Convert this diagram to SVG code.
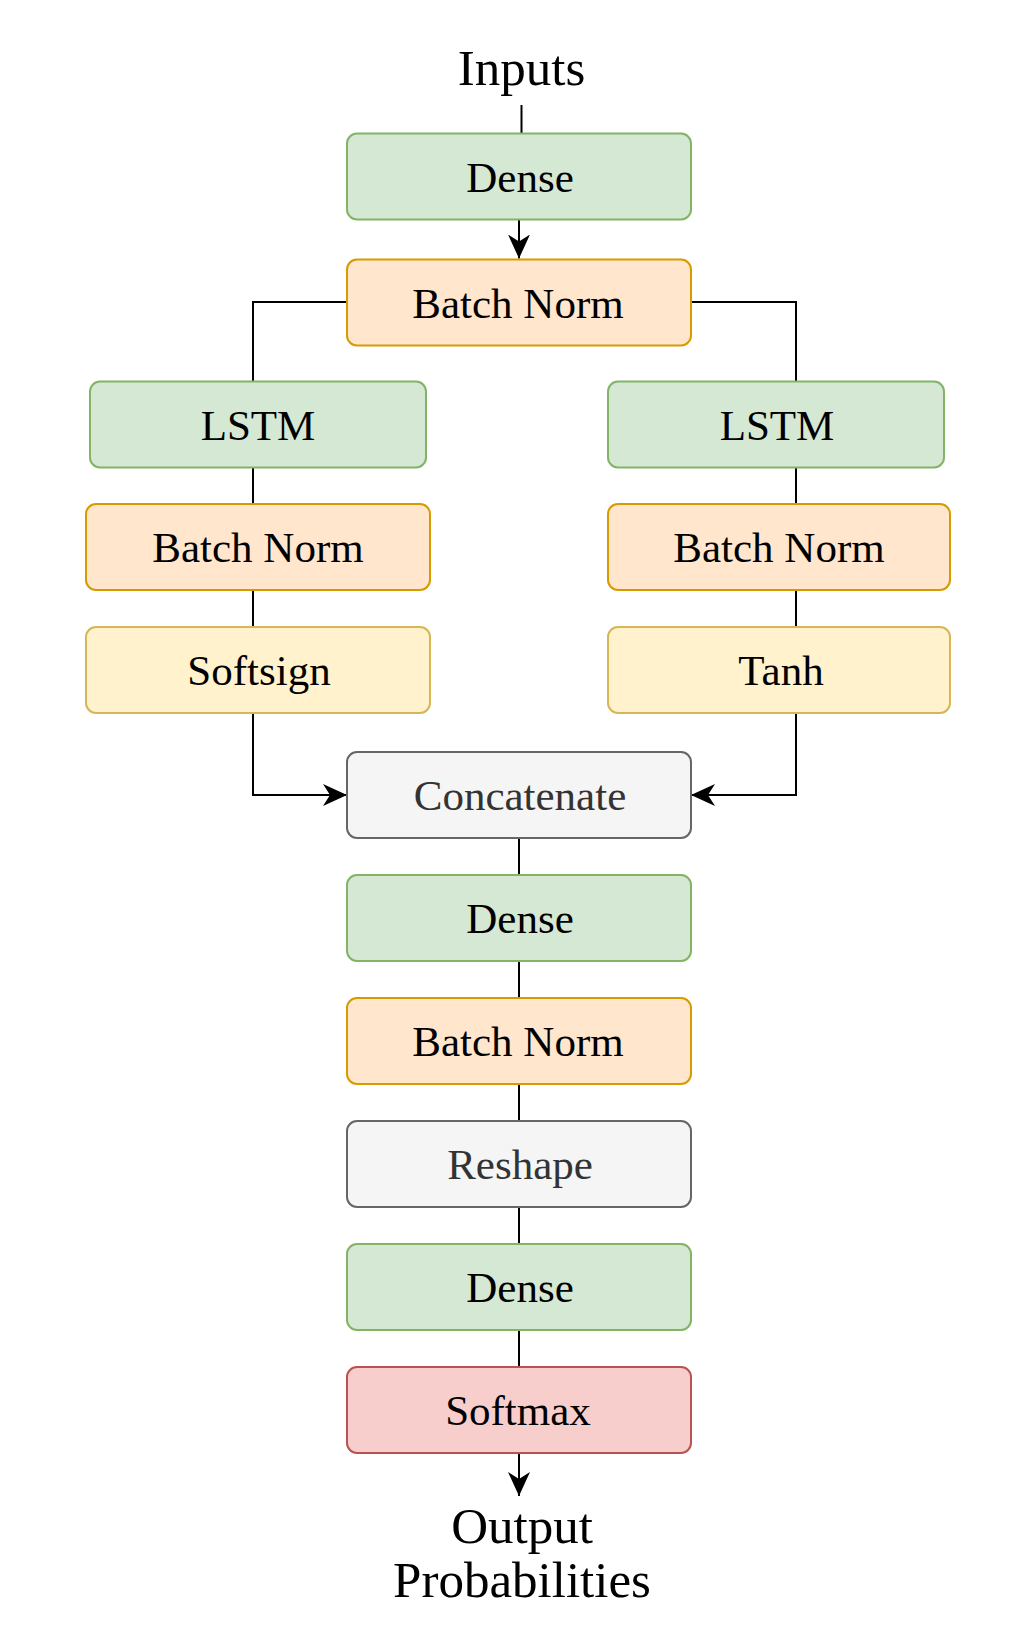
<svg xmlns="http://www.w3.org/2000/svg" width="1029" height="1633" viewBox="0 0 1029 1633">
<style>
  .box { stroke-width: 2; }
  .green { fill: #d5e8d4; stroke: #82b366; }
  .orange { fill: #ffe6cc; stroke: #d79b00; }
  .yellow { fill: #fff2cc; stroke: #d6b656; }
  .grey { fill: #f5f5f5; stroke: #666666; }
  .red { fill: #f8cecc; stroke: #b85450; }
  text { font-family: "Liberation Serif", "Times New Roman", serif; font-size: 43px; text-anchor: middle; fill: #000000; }
  text.dim { fill: #333333; }
  text.label { font-size: 51px; }
  .conn { fill: none; stroke: #000000; stroke-width: 2; }
</style>
<defs>
  <marker id="arrow" viewBox="0 0 24 22" refX="24" refY="11" markerWidth="24" markerHeight="22" markerUnits="userSpaceOnUse" orient="auto">
    <path d="M0,0 L24,11 L0,22 L7,11 Z" fill="#000000"/>
  </marker>
</defs>
<rect width="1029" height="1633" fill="#ffffff"/>

<g id="connectors">
  <path class="conn" d="M521.5,105 L521.5,133.5"/>
  <path class="conn" d="M519,219.5 L519,258.5" marker-end="url(#arrow)"/>
  <path class="conn" d="M347,302 L253,302 L253,381.5"/>
  <path class="conn" d="M691,302 L796,302 L796,381.5"/>
  <path class="conn" d="M253,467.5 L253,504"/>
  <path class="conn" d="M253,590 L253,627"/>
  <path class="conn" d="M796,467.5 L796,504"/>
  <path class="conn" d="M796,590 L796,627"/>
  <path class="conn" d="M253,713 L253,795 L347,795" marker-end="url(#arrow)"/>
  <path class="conn" d="M796,713 L796,795 L691,795" marker-end="url(#arrow)"/>
  <path class="conn" d="M519,838 L519,875"/>
  <path class="conn" d="M519,961 L519,998"/>
  <path class="conn" d="M519,1084 L519,1121"/>
  <path class="conn" d="M519,1207 L519,1244"/>
  <path class="conn" d="M519,1330 L519,1367"/>
  <path class="conn" d="M519,1453 L519,1496" marker-end="url(#arrow)"/>
</g>

<g id="label-inputs"><text class="label" x="521.5" y="85">Inputs</text></g>

<g id="dense1"><rect class="box green" x="347" y="133.5" width="344" height="86" rx="10"/><text x="520" y="191.5">Dense</text></g>
<g id="batchnorm1"><rect class="box orange" x="347" y="259.5" width="344" height="86" rx="10"/><text x="518" y="317.5">Batch Norm</text></g>

<g id="lstm-left"><rect class="box green" x="90" y="381.5" width="336" height="86" rx="10"/><text x="258" y="439.5">LSTM</text></g>
<g id="lstm-right"><rect class="box green" x="608" y="381.5" width="336" height="86" rx="10"/><text x="777" y="439.5">LSTM</text></g>

<g id="batchnorm-left"><rect class="box orange" x="86" y="504" width="344" height="86" rx="10"/><text x="258" y="562">Batch Norm</text></g>
<g id="batchnorm-right"><rect class="box orange" x="608" y="504" width="342" height="86" rx="10"/><text x="779" y="562">Batch Norm</text></g>

<g id="softsign"><rect class="box yellow" x="86" y="627" width="344" height="86" rx="10"/><text x="259" y="685">Softsign</text></g>
<g id="tanh"><rect class="box yellow" x="608" y="627" width="342" height="86" rx="10"/><text x="781" y="685">Tanh</text></g>

<g id="concatenate"><rect class="box grey" x="347" y="752" width="344" height="86" rx="10"/><text class="dim" x="520" y="810">Concatenate</text></g>
<g id="dense2"><rect class="box green" x="347" y="875" width="344" height="86" rx="10"/><text x="520" y="933">Dense</text></g>
<g id="batchnorm3"><rect class="box orange" x="347" y="998" width="344" height="86" rx="10"/><text x="518" y="1056">Batch Norm</text></g>
<g id="reshape"><rect class="box grey" x="347" y="1121" width="344" height="86" rx="10"/><text class="dim" x="520" y="1179">Reshape</text></g>
<g id="dense3"><rect class="box green" x="347" y="1244" width="344" height="86" rx="10"/><text x="520" y="1302">Dense</text></g>
<g id="softmax"><rect class="box red" x="347" y="1367" width="344" height="86" rx="10"/><text x="518" y="1425">Softmax</text></g>

<g id="label-output"><text class="label" x="522" y="1543">Output</text><text class="label" x="522" y="1597">Probabilities</text></g>
</svg>
